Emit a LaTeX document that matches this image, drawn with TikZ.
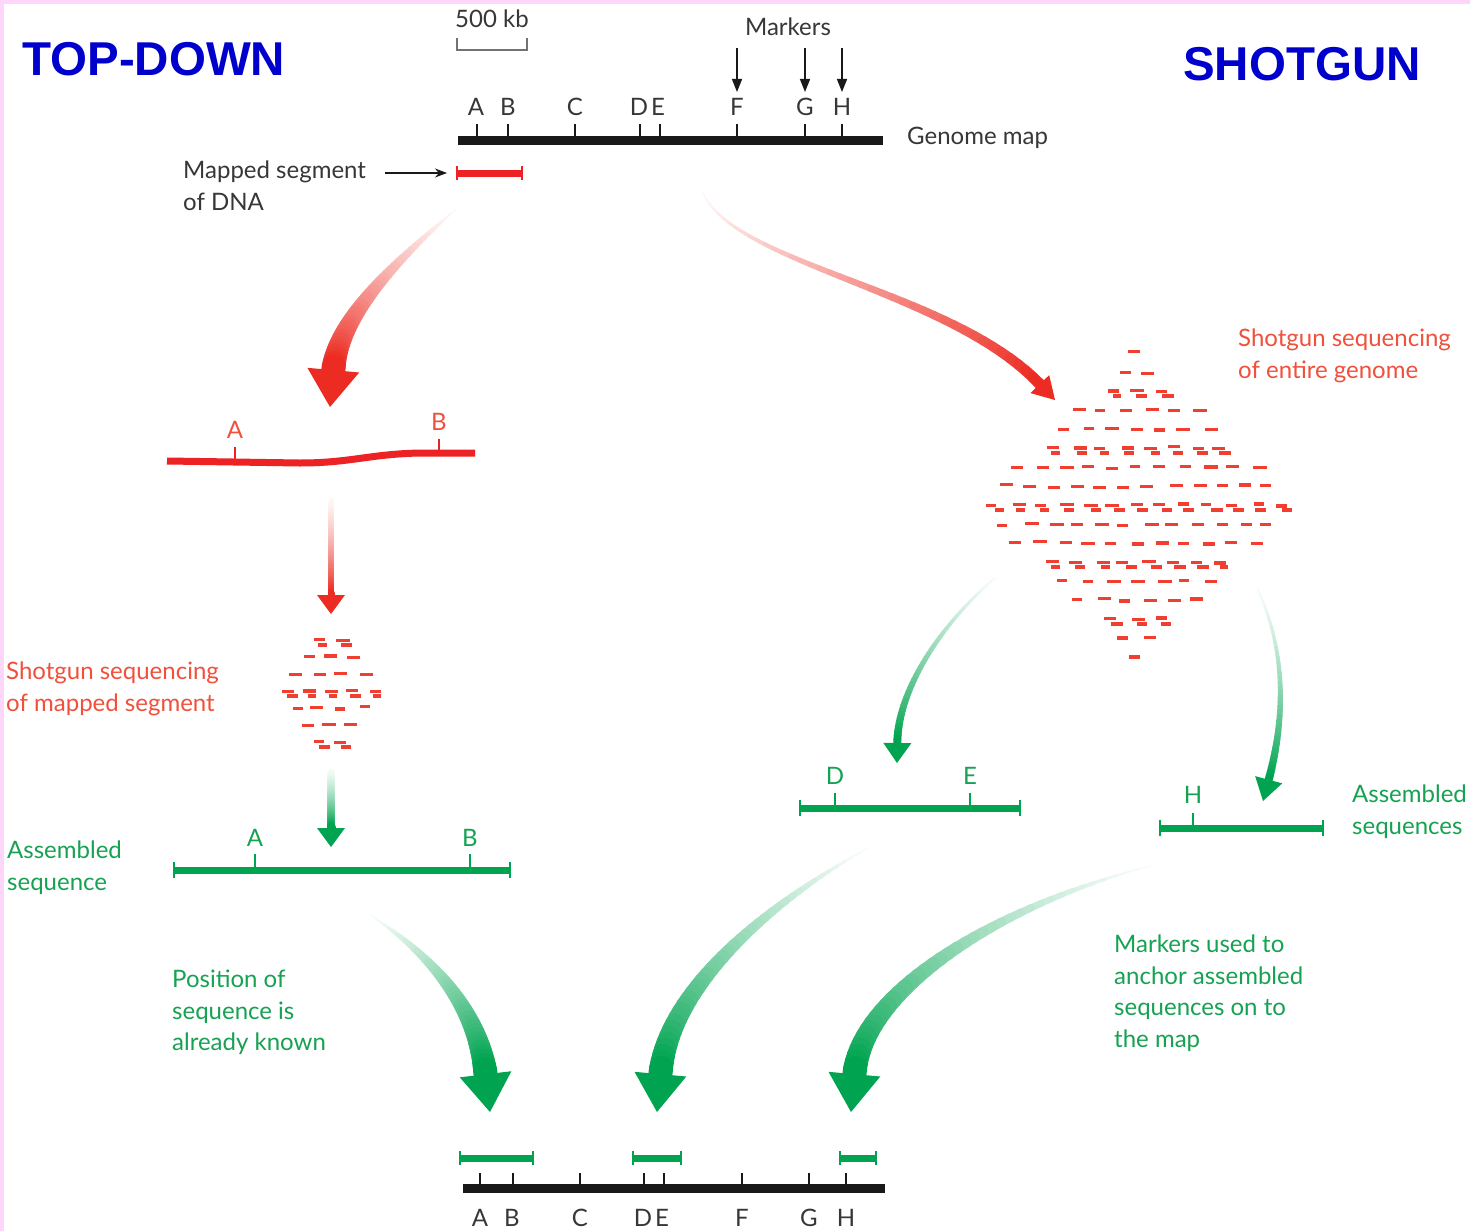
\documentclass[tikz,border=0pt]{standalone}
\usepackage{fontspec}
\setmainfont{Lato}
\newfontfamily\headfont{Liberation Sans}
\usetikzlibrary{calc,arrows.meta}

\definecolor{framepink}{RGB}{253,214,250}
\definecolor{headblue}{RGB}{0,0,204}
\definecolor{seqred}{RGB}{236,34,36}
\definecolor{arrowred}{RGB}{236,44,34}
\definecolor{txtred}{RGB}{240,80,60}
\definecolor{dashred}{RGB}{240,62,48}
\definecolor{seqgreen}{RGB}{0,164,80}
\definecolor{txtgreen}{RGB}{22,162,82}
\definecolor{mapblack}{RGB}{25,25,25}
\definecolor{mapgrey}{RGB}{55,55,55}

% tapered, fading curved arrow:
% #1 colour, #2 start width, #3 end width, #4 half head width, #5 head length,
% #6 start, #7 first control, #8 second control, #9 tip
\newcommand{\taperarrow}[9]{%
  \coordinate (hb) at ($#9!#5pt!#8$);
  \path #6 .. controls #7 and #8 .. (hb)
     foreach \k in {0,...,40}{coordinate[pos=\k/40] (tp\k)};
  \foreach \k in {0,...,39}{%
    \pgfmathtruncatemacro{\kn}{\k+1}%
    \pgfmathsetmacro{\ww}{#2+(#3-#2)*\k/39}%
    \pgfmathtruncatemacro{\cc}{4+96*(\k/39)^1.2}%
    \draw[line width=\ww pt, color=#1!\cc!white, line cap=round] (tp\k) -- (tp\kn);
  }
  \fill[#1] #9 -- ($(hb)!#4pt!90:#9$) -- ($(hb)!#4pt!-90:#9$) -- cycle;
}

% diamond-shaped cloud of short sequence reads:
% #1 centre, #2 rows each side, #3 columns each side, #4 row step, #5 column step,
% #6 half width, #7 half height
\newcommand{\readcloud}[7]{%
  \foreach \j in {-#2,...,#2}{
    \foreach \i in {-#3,...,#3}{
      \pgfmathsetmacro{\px}{#5*\i + 0.5*#5*mod(abs(\j),2)}
      \pgfmathsetmacro{\py}{#4*\j}
      \pgfmathtruncatemacro{\inside}{abs(\px)/#6+abs(\py)/#7<=1.0}
      \pgfmathtruncatemacro{\pair}{mod(abs(\j),3)==0}
      \ifnum\inside=1
        \draw[fragment] ($#1+(\px+3*rand,\py+1.2*rand)$) ++(-6,0) -- ++(12+2*rand,0);
        \ifnum\pair=1
          \draw[fragment] ($#1+(\px+6+2*rand,\py+5)$) ++(-6,0) -- ++(10+2*rand,0);
        \fi
      \fi
    }
  }
}

\begin{document}
\begin{tikzpicture}[x=1pt,y=-1pt,
  every node/.style={inner sep=0pt, font=\fontsize{24}{31.5}\selectfont},
  mapbar/.style={line width=9pt, draw=mapblack},
  maptick/.style={line width=2.6pt, draw=mapblack},
  seqbar/.style={line width=7pt},
  seqcap/.style={line width=2.6pt},
  fragment/.style={line width=3.1pt, draw=dashred},
  maplabel/.style={anchor=base, text=mapgrey},
  note/.style={align=left, anchor=north west},
  heading/.style={anchor=base west, text=headblue,
    font=\headfont\bfseries\fontsize{47.5}{50}\selectfont}]

% page and frame
\fill[framepink] (0,0) rectangle (1470,1231);
\fill[white] (4,4) rectangle (1470,1231);
\useasboundingbox (0,0) rectangle (1470,1231);

% headings
\node[heading] (tdhead) at (22,75) {TOP-DOWN};
\node[heading] (sghead) at (1183,81) {SHOTGUN};

% scale bar
\node[maplabel] (scalelbl) at (492,28) {500 kb};
\draw[line width=2pt, draw=mapgrey!70] (457,38) -- (457,50) -- (527,50) -- (527,38);

% genome map
\coordinate (gmL) at (458,140);
\coordinate (gmR) at (883,140);
\draw[mapbar] (gmL) -- (gmR);
\foreach \tx/\lx/\nm in {477/476/A,508/508/B,575/575/C,640/639/D,660/658/E,737/737/F,805/805/G,842/842/H}{
  \draw[maptick] (\tx,140) -- (\tx,124);
  \node[maplabel] (gm\nm) at (\lx,115) {\nm};
}
\node[anchor=base west, text=mapgrey] (gmlbl) at (907,144) {Genome map};

% markers
\node[maplabel] (mklbl) at (788,36) {Markers};
\foreach \tx/\nm in {737/F,805/G,842/H}{
  \coordinate (mk\nm) at (\tx,48);
  \coordinate (mt\nm) at (\tx,92);
  \draw[line width=1.5pt, mapblack, -{Triangle[width=10pt,length=13pt]}] (mk\nm) -- (mt\nm);
}

% mapped segment
\node[note, text=mapgrey] (mslbl) at (183,161) {Mapped segment\\of DNA};
\coordinate (msL) at (457,173);
\coordinate (msR) at (522,173);
\coordinate (msA) at (385,173);
\coordinate (msB) at (447,173);
\draw[line width=1.3pt, mapblack, -{Stealth[length=12pt,width=9pt]}] (msA) -- (msB);
\draw[seqbar, seqred] (msL) -- (msR);
\draw[seqcap, seqred] (457,166) -- (457,180) (522,166) -- (522,180);

% top-down branch: segment with markers A and B
\coordinate (rsL) at (167,461);
\coordinate (rsR) at (475,453);
\draw[seqbar, seqred] (rsL) -- (300,463) .. controls (350,463) and (370,454) .. (420,453) -- (rsR);
\draw[seqcap, seqred] (235,461) -- (235,447) (439,453) -- (439,439);
\node[anchor=base, text=txtred] (rsA) at (235,438) {A};
\node[anchor=base, text=txtred] (rsB) at (439,430) {B};

\coordinate (ra1s) at (455,210);
\coordinate (ra1t) at (330,407);
\taperarrow{arrowred}{1.5}{24}{26}{37}{(ra1s)}{(395,262)}{(338,318)}{(ra1t)}

\coordinate (ra3s) at (331,500);
\coordinate (ra3t) at (331,614);
\taperarrow{arrowred}{5}{7}{14}{19}{(ra3s)}{(331,540)}{(331,570)}{(ra3t)}

% shotgun reads of the mapped segment
\pgfmathsetseed{11}
\readcloud{(330,691)}{3}{4}{17}{22}{62}{62}
\node[note, text=txtred] (sgl) at (6,662) {Shotgun sequencing\\of mapped segment};

\coordinate (ga4s) at (331,772);
\coordinate (ga4t) at (331,847);
\taperarrow{seqgreen}{7}{9}{14}{19}{(ga4s)}{(331,795)}{(331,815)}{(ga4t)}

% assembled sequence (top-down)
\coordinate (asL) at (174,870);
\coordinate (asR) at (510,870);
\draw[seqbar, seqgreen] (asL) -- (asR);
\draw[seqcap, seqgreen] (174,862) -- (174,878) (510,862) -- (510,878)
  (255,870) -- (255,854) (470,870) -- (470,854);
\node[anchor=base, text=txtgreen] (asA) at (255,846) {A};
\node[anchor=base, text=txtgreen] (asB) at (470,846) {B};
\node[note, text=txtgreen] (asl) at (7,841) {Assembled\\sequence};

% shotgun branch
\coordinate (ra2s) at (703,193);
\coordinate (ra2t) at (1055,400);
\taperarrow{arrowred}{1.5}{11}{13}{22}{(ra2s)}{(735,265)}{(950,290)}{(ra2t)}
\node[note, text=txtred] (sgr) at (1238,329) {Shotgun sequencing\\of entire genome};

% shotgun reads of the whole genome
\pgfmathsetseed{5}
\readcloud{(1137,505)}{8}{8}{19}{24}{158}{158}

\coordinate (ga5s) at (995,578);
\coordinate (ga5t) at (897,763);
\taperarrow{seqgreen}{2}{8}{14}{20}{(ga5s)}{(940,625)}{(898,690)}{(ga5t)}

\coordinate (ga6s) at (1258,590);
\coordinate (ga6t) at (1263,801);
\taperarrow{seqgreen}{2}{8}{14}{22}{(ga6s)}{(1290,660)}{(1282,730)}{(ga6t)}

% assembled sequences (shotgun)
\coordinate (deL) at (800,808);
\coordinate (deR) at (1020,808);
\draw[seqbar, seqgreen] (deL) -- (deR);
\draw[seqcap, seqgreen] (800,800) -- (800,816) (1020,800) -- (1020,816)
  (835,808) -- (835,793) (970,808) -- (970,793);
\node[anchor=base, text=txtgreen] (deD) at (835,784) {D};
\node[anchor=base, text=txtgreen] (deE) at (970,784) {E};

\coordinate (hL) at (1160,828);
\coordinate (hR) at (1323,828);
\draw[seqbar, seqgreen] (hL) -- (hR);
\draw[seqcap, seqgreen] (1160,820) -- (1160,836) (1323,820) -- (1323,836)
  (1193,828) -- (1193,813);
\node[anchor=base, text=txtgreen] (hH) at (1193,803) {H};
\node[note, text=txtgreen] (asr) at (1352,785) {Assembled\\sequences};

% anchoring on the map
\coordinate (ga7s) at (370,915);
\coordinate (ga7t) at (490,1112);
\taperarrow{seqgreen}{1}{24}{26}{38}{(ga7s)}{(432,955)}{(478,1010)}{(ga7t)}
\coordinate (ga8s) at (868,848);
\coordinate (ga8t) at (657,1112);
\taperarrow{seqgreen}{1}{24}{26}{38}{(ga8s)}{(765,905)}{(668,990)}{(ga8t)}
\coordinate (ga9s) at (1150,866);
\coordinate (ga9t) at (851,1112);
\taperarrow{seqgreen}{1}{24}{26}{38}{(ga9s)}{(1000,905)}{(862,990)}{(ga9t)}

\node[note, text=txtgreen] (posl) at (172,970) {Position of\\sequence is\\already known};
\node[note, text=txtgreen] (mkl) at (1114,935) {Markers used to\\anchor assembled\\sequences on to\\the map};

% final genome map with anchored sequences
\coordinate (fmL) at (463,1188);
\coordinate (fmR) at (885,1188);
\draw[mapbar] (fmL) -- (fmR);
\foreach \tx/\lx/\nm in {480/480/A,513/512/B,580/580/C,644/643/D,664/662/E,742/742/F,809/809/G,846/846/H}{
  \draw[maptick] (\tx,1188) -- (\tx,1173);
  \node[maplabel] (fm\nm) at (\lx,1226) {\nm};
}
\foreach \a/\b/\nm in {460/533/1,633/681/2,840/876/3}{
  \coordinate (fs\nm L) at (\a,1158);
  \coordinate (fs\nm R) at (\b,1158);
  \draw[seqbar, seqgreen] (fs\nm L) -- (fs\nm R);
  \draw[seqcap, seqgreen] (\a,1151) -- (\a,1165) (\b,1151) -- (\b,1165);
}
\end{tikzpicture}
\end{document}
